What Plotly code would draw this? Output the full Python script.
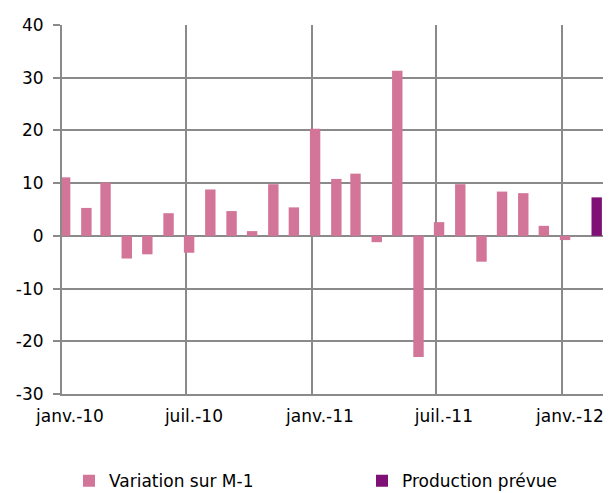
import plotly.graph_objects as go

# Data
months = [
    "2010-01-01", "2010-02-01", "2010-03-01", "2010-04-01", "2010-05-01", "2010-06-01",
    "2010-07-01", "2010-08-01", "2010-09-01", "2010-10-01", "2010-11-01", "2010-12-01",
    "2011-01-01", "2011-02-01", "2011-03-01", "2011-04-01", "2011-05-01", "2011-06-01",
    "2011-07-01", "2011-08-01", "2011-09-01", "2011-10-01", "2011-11-01", "2011-12-01",
    "2012-01-01",
]
variation_m1 = [
    11.1, 5.3, 10.1, -4.3, -3.5, 4.3,
    -3.2, 8.8, 4.7, 0.9, 9.8, 5.4,
    20.3, 10.8, 11.8, -1.2, 31.3, -23.0,
    2.6, 9.8, -4.9, 8.4, 8.1, 1.9,
    -0.8,
]
prevue_months = ["2012-02-01"]
production_prevue = [7.3]

tick_dates = ["2010-01-01", "2010-07-01", "2011-01-01", "2011-07-01", "2012-01-01"]
tick_labels = ["janv.-10", "juil.-10", "janv.-11", "juil.-11", "janv.-12"]
y_ticks = [-30, -20, -10, 0, 10, 20, 30, 40]
y_tick_labels = ["-30", "-20", "-10", "0", "10", "20", "30", "40"]

PINK = "#D37598"
PURPLE = "#7F1075"
GRID = "#8A8A8A"
FONT = dict(family="DejaVu Sans, Liberation Sans, Arial", size=17, color="#000000")

DAY = 86400000  # ms
BAR_W = 15.2 * DAY
PINK_OFF = -3 * DAY
PURPLE_OFF = PINK_OFF + BAR_W

fig = go.Figure()
fig.add_trace(go.Bar(
    x=months, y=variation_m1, name="Variation sur M-1",
    marker=dict(color=PINK, line=dict(width=0)),
    width=BAR_W, offset=PINK_OFF, legend="legend",
))
fig.add_trace(go.Bar(
    x=prevue_months, y=production_prevue, name="Production prévue",
    marker=dict(color=PURPLE, line=dict(width=0)),
    width=BAR_W, offset=PURPLE_OFF, legend="legend2",
))

leg_common = dict(
    orientation="h", xref="container", yref="container",
    xanchor="left", yanchor="middle", y=0.024,
    font=FONT, bgcolor="rgba(0,0,0,0)",
)
fig.update_layout(
    width=614, height=493,
    margin=dict(l=62, r=11, t=25, b=99, autoexpand=False),
    paper_bgcolor="white", plot_bgcolor="white",
    barmode="overlay",
    font=FONT,
    showlegend=True,
    legend=dict(x=69 / 614, **leg_common),
    legend2=dict(x=362 / 614, **leg_common),
)
fig.update_xaxes(
    type="date",
    range=["2010-01-01", "2012-03-01"],
    tickvals=tick_dates, ticktext=tick_labels,
    showgrid=True, gridcolor=GRID, gridwidth=2,
    showline=True, linecolor=GRID, linewidth=2,
    ticks="", ticklabelshift=8, ticklabelstandoff=6,
    zeroline=False, automargin=False,
)
fig.update_yaxes(
    range=[-30, 40], tickvals=y_ticks, ticktext=y_tick_labels,
    showgrid=True, gridcolor=GRID, gridwidth=2,
    showline=True, linecolor=GRID, linewidth=2,
    ticks="outside", ticklen=7, tickcolor=GRID, tickwidth=2,
    ticklabelstandoff=6,
    zeroline=True, zerolinecolor=GRID, zerolinewidth=2,
    automargin=False,
)

fig.write_html(
    "out.html",
    config={"displayModeBar": False},
    post_script="document.body.style.margin='0';",
)
